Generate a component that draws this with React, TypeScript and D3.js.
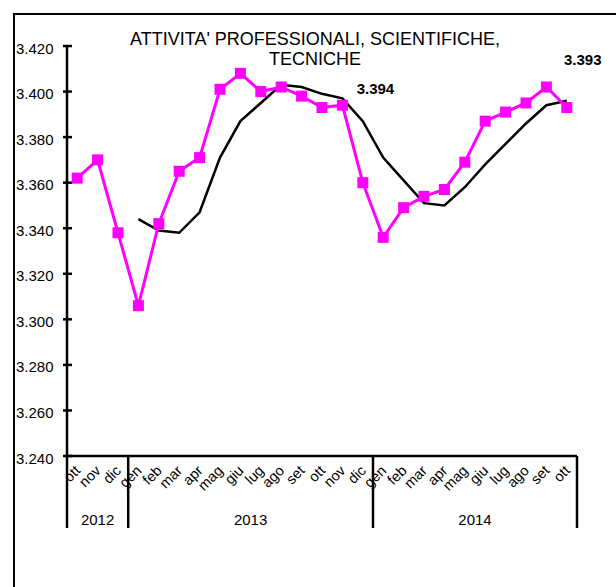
import React from "react";
import * as d3 from "d3";

const months = ["ott","nov","dic","gen","feb","mar","apr","mag","giu","lug","ago","set","ott","nov","dic","gen","feb","mar","apr","mag","giu","lug","ago","set","ott"];
const yearLabels = ["2012", "2013", "2014"];
const yearStarts = [0, 3, 15];
const yearEnds = [3, 15, 25];
const values = [3.362,3.370,3.338,3.306,3.342,3.365,3.371,3.401,3.408,3.400,3.402,3.398,3.393,3.394,3.360,3.336,3.349,3.354,3.357,3.369,3.387,3.391,3.395,3.402,3.393];
const trendStart = 3;
const trend = [3.344,3.339,3.338,3.347,3.371,3.387,3.395,3.403,3.402,3.399,3.397,3.387,3.371,3.361,3.351,3.350,3.358,3.368,3.377,3.386,3.394,3.396];
const yTicks = [3.24,3.26,3.28,3.30,3.32,3.34,3.36,3.38,3.40,3.42];
const valueLabels = [{ idx: 13, text: "3.394" }, { idx: 24, text: "3.393" }];
const titleLines = ["ATTIVITA' PROFESSIONALI, SCIENTIFICHE,", "TECNICHE"];

const W = 616, H = 587;
const L = 67, R = 577, T = 46, B = 456;
const font = "'Liberation Sans', Arial, sans-serif";
const magenta = "#FF00FF";
const labelOffsets = [[33, -11.5], [16, -43]];

export default function App() {
  const x = d3.scaleBand<number>().domain(d3.range(months.length)).range([L, R]).padding(0);
  const y = d3.scaleLinear().domain([3.24, 3.42]).range([B, T]);
  const cx = (i: number) => (x(i) as number) + x.bandwidth() / 2;
  const line = d3.line<number>().x((_, i) => cx(i)).y((d) => y(d));
  const tline = d3.line<number>().x((_, i) => cx(i + trendStart)).y((d) => y(d));
  const fmt = (v: number) => v.toFixed(3);
  const ms = 11;
  return (
    <svg width={W} height={H} style={{ position: "absolute", left: 0, top: 0, background: "#fff" }} fontFamily={font}>
      <rect x={14} y={14} width={W} height={H} fill="#fff" stroke="#000" strokeWidth={2} />
      {titleLines.map((t, i) => (
        <text key={i} x={315} y={45 + i * 20} textAnchor="middle" fontSize={18} fill="#000">{t}</text>
      ))}
      {yTicks.map((v, i) => (
        <g key={i}>
          <line x1={L - 4} x2={L + 5} y1={y(v)} y2={y(v)} stroke="#000" strokeWidth={2.5} />
          <text x={53.5} y={y(v) + 7.5} textAnchor="end" fontSize={15} fill="#000">{fmt(v)}</text>
        </g>
      ))}
      <line x1={L} x2={L} y1={T - 1} y2={B + 1} stroke="#000" strokeWidth={2.5} />
      <line x1={L} x2={R} y1={B} y2={B} stroke="#000" strokeWidth={2.5} />
      {yearLabels.map((lab, i) => {
        const x0 = x(yearStarts[i]) as number;
        const x1 = yearEnds[i] < months.length ? (x(yearEnds[i]) as number) : R;
        return (
          <g key={i}>
            <line x1={x0} x2={x0} y1={B} y2={528} stroke="#000" strokeWidth={2.5} />
            {i === yearLabels.length - 1 && <line x1={x1} x2={x1} y1={B} y2={528} stroke="#000" strokeWidth={2.5} />}
            <text x={(x0 + x1) / 2} y={525} textAnchor="middle" fontSize={15} fill="#000">{lab}</text>
          </g>
        );
      })}
      {months.map((m, i) => (
        <text key={i} transform={`translate(${cx(i) + 4},${471.5}) rotate(-45)`} textAnchor="end" fontSize={14.5} fill="#000">{m}</text>
      ))}
      <path d={tline(trend) || ""} fill="none" stroke="#000" strokeWidth={2.5} />
      <path d={line(values) || ""} fill="none" stroke={magenta} strokeWidth={3} />
      {values.map((v, i) => (
        <rect key={i} x={cx(i) - ms / 2} y={y(v) - ms / 2} width={ms} height={ms} fill={magenta} />
      ))}
      {valueLabels.map((l, i) => (
        <text key={i} x={cx(l.idx) + labelOffsets[i][0]} y={y(values[l.idx]) + labelOffsets[i][1]} textAnchor="middle" fontSize={15} fontWeight="bold" fill="#000">{l.text}</text>
      ))}
    </svg>
  );
}
